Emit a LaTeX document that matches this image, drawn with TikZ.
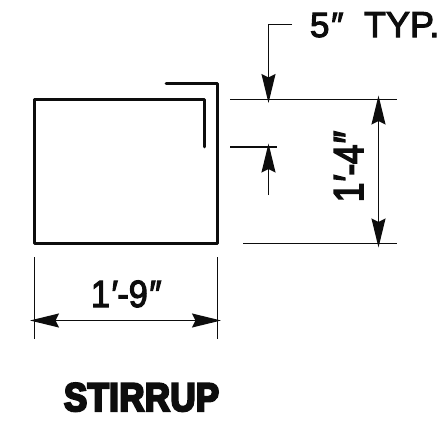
\documentclass[tikz,border=0pt]{standalone}
\usepackage{fontspec}
\setmainfont{Liberation Sans}
\newfontfamily\heavyfont[FakeBold=5.5,FakeStretch=0.87,LetterSpace=1]{Liberation Sans Bold}
\newfontfamily\dimfont[FakeBold=3,FakeStretch=0.9,ItalicFont={Liberation Sans Italic},ItalicFeatures={FakeBold=3,FakeStretch=0.9}]{Liberation Sans}
\newfontfamily\typfont[FakeBold=3,FakeStretch=1.0,ItalicFont={Liberation Sans Italic},ItalicFeatures={FakeBold=3,FakeStretch=1.0}]{Liberation Sans}
\newfontfamily\rotfont[FakeBold=4,FakeStretch=0.82,ItalicFont={Liberation Sans Italic},ItalicFeatures={FakeBold=4,FakeStretch=0.82}]{Liberation Sans}
\usetikzlibrary{arrows.meta}
\tikzset{
  x=1pt,y=-1pt,
  rebar/.style={line width=2.6pt,line join=round,line cap=round,black!95},
  dimline/.style={line width=1.3pt,black!95},
  headtip/.tip={Stealth[length=29pt,width=14pt,inset=3.5pt]},
  dimarrow/.style={line width=1.3pt,black!95,-headtip},
  dimboth/.style={line width=1.3pt,black!95,headtip-headtip},
  lbl/.style={inner sep=0pt,outer sep=0pt,text=black!95,anchor=base west},
}
\begin{document}
\begin{tikzpicture}
\useasboundingbox (0,0) rectangle (442,423);
% stirrup
\draw[rebar] (166,83.5) -- (217.5,83.5) -- (217.5,243.5) -- (34.5,243.5) -- (34.5,99.5) -- (204.5,99.5) -- (204.5,147);
% extension lines
\coordinate (e1a) at (230,99.5); \coordinate (e1b) at (397,99.5);
\coordinate (e2a) at (230,147); \coordinate (e2b) at (277,147);
\coordinate (e3a) at (243,243.5); \coordinate (e3b) at (397,243.5);
\draw[dimline] (e1a) -- (e1b);
\draw[dimline] (e2a) -- (e2b);
\draw[dimline] (e3a) -- (e3b);
\coordinate (l1a) at (34.5,257); \coordinate (l1b) at (34.5,339);
\coordinate (l2a) at (217.5,257); \coordinate (l2b) at (217.5,339);
\draw[dimline] (l1a) -- (l1b);
\draw[dimline] (l2a) -- (l2b);
% dimensions
\coordinate (v1) at (378.5,95.5); \coordinate (v2) at (378.5,247.5);
\draw[dimboth] (v1) -- (v2);
\coordinate (h1) at (30,320.5); \coordinate (h2) at (221,320.5);
\draw[dimboth] (h1) -- (h2);
% leader
\coordinate (ld0) at (292,24.5); \coordinate (ld1) at (268.5,24.5); \coordinate (ld2) at (268.5,103);
\draw[dimarrow] (ld0) -- (ld1) -- (ld2);
\coordinate (ua) at (268.5,195); \coordinate (ub) at (268.5,143.5);
\draw[dimarrow] (ua) -- (ub);
% text
\node[lbl,font=\fontsize{35}{35}\typfont] (typa) at (310,37) {5\textit{\char"2033}};
\node[lbl,font=\fontsize{36}{36}\typfont] (typb) at (364,37) {TYP.};
\node[lbl,rotate=90,font=\fontsize{42}{42}\rotfont] (h) at (363,202) {1\textit{\char"2032}-4\textit{\char"2033}};
\node[lbl,font=\fontsize{38}{38}\dimfont] (w) at (91,307) {1\textit{\char"2032}-9\textit{\char"2033}};
\node[lbl,font=\fontsize{40}{40}\heavyfont] (t) at (64,411) {STIRRUP};
\end{tikzpicture}
\end{document}
